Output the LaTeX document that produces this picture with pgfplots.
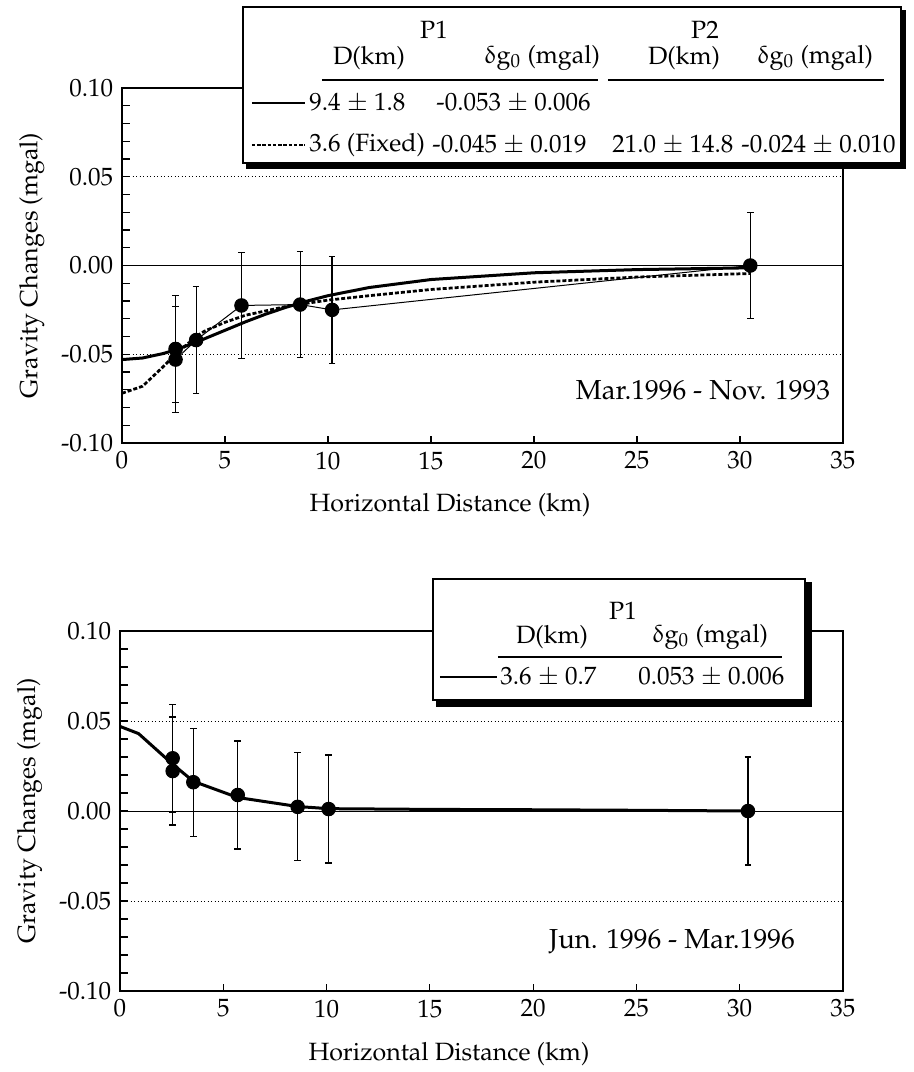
\documentclass[border=0pt]{standalone}
\usepackage[T1]{fontenc}
\usepackage{mathpazo}
\usepackage{upgreek}
\usepackage{pgfplots}
\pgfplotsset{compat=1.18}

\pgfplotsset{gstyle/.style={
  width=288.4pt, height=142pt, scale only axis,
  xmin=0, xmax=35, ymin=-0.1, ymax=0.1,
  xtick={0,5,...,35},
  ytick={-0.1,-0.05,0,0.05,0.1},
  yticklabels={-0.10,-0.05,0.00,0.05,0.10},
  minor y tick num=4,
  tick pos=left, tick align=inside,
  major tick length=3pt, minor tick length=3pt,
  axis line style={line width=0.6pt},
  every tick/.style={black, line width=0.5pt},
  xlabel={Horizontal Distance (km)},
  ylabel={Gravity Changes (mgal)},
  xlabel style={at={(axis description cs:0.455,-0.175)}, anchor=center},
  ylabel style={at={(axis description cs:-0.125,0.5)}, anchor=center},
  clip=false},
  pts/.style={only marks, mark=*, mark size=2.7pt, black,
    error bars/.cd, y dir=both, y explicit,
    error bar style={line width=0.5pt},
    error mark options={rotate=90, mark size=1.3pt, line width=0.5pt}}}

\newcommand{\dg}{$\updelta$g$_0$}

\begin{document}
\begin{tikzpicture}
\useasboundingbox (0,0) rectangle (365.2pt,-428.8pt);

% upper panel: Mar.1996 - Nov.1993
\begin{axis}[gstyle, at={(48.8pt,-177.2pt)}, anchor=south west]
\draw[densely dotted, line width=0.4pt] (axis cs:0,0.05) -- (axis cs:35,0.05);
\draw[densely dotted, line width=0.4pt] (axis cs:0,-0.05) -- (axis cs:35,-0.05);
\draw[line width=0.4pt] (axis cs:0,0) -- (axis cs:35,0);
% thin line through stations
\addplot[black, line width=0.4pt] coordinates {
  (2.6,-0.053) (3.6,-0.042) (5.8,-0.0225) (8.65,-0.022) (10.2,-0.025) (30.5,0)};
% P1 model, D = 9.4 km
\addplot[black, line width=1.2pt] coordinates {
  (0,-0.053) (1,-0.0521) (2,-0.0496) (2.6,-0.0475) (3,-0.0458) (3.6,-0.0432)
  (4,-0.0413) (5,-0.0365) (6,-0.0317) (7,-0.0273) (8,-0.0234) (9,-0.0200)
  (10,-0.0170) (12,-0.0124) (15,-0.0079) (20,-0.0041) (25,-0.0023) (30.5,-0.0013)};
% P1 + P2 model
\addplot[black, line width=1.1pt, dash pattern=on 1.6pt off 0.8pt] coordinates {
  (0,-0.072) (1,-0.068) (2,-0.057) (2.6,-0.050) (3,-0.046) (3.6,-0.040)
  (4,-0.037) (5,-0.032) (6,-0.028) (8,-0.023) (10,-0.0195) (12,-0.017)
  (15,-0.0135) (20,-0.0094) (25,-0.0065) (30.5,-0.0045)};
\addplot[pts] table[x=x, y=y, y error=e] {
x     y        e
2.6   -0.047   0.030
2.6   -0.053   0.030
3.6   -0.042   0.030
5.8   -0.0225  0.030
8.65  -0.022   0.030
10.2  -0.025   0.030
30.5  0.000    0.030
};
\end{axis}

% lower panel: Jun.1996 - Mar.1996
\begin{axis}[gstyle, at={(48pt,-396.4pt)}, anchor=south west, width=289.2pt, height=144pt]
\draw[densely dotted, line width=0.4pt] (axis cs:0,0.05) -- (axis cs:35,0.05);
\draw[densely dotted, line width=0.4pt] (axis cs:0,-0.05) -- (axis cs:35,-0.05);
\draw[line width=0.4pt] (axis cs:0,0) -- (axis cs:35,0);
\addplot[black, line width=1.2pt] coordinates {
  (0,0.047) (0.9,0.043) (2.55,0.026) (3.55,0.0165) (5.7,0.0075) (8.6,0.0025)
  (10.1,0.0013) (15,0.0009) (20,0.0007) (25,0.0004) (30.4,0.0)};
\addplot[pts] table[x=x, y=y, y error=e] {
x     y        e
2.55  0.0293   0.030
2.55  0.0222   0.030
3.55  0.0160   0.030
5.7   0.0089   0.030
8.6   0.0023   0.030
10.1  0.0011   0.030
30.4  0.000    0.030
};
\end{axis}

\begin{scope}[x=0.4pt, y=-0.4pt]
% upper legend box
\fill[black] (246,10) rectangle (906,169);
\draw[fill=white, line width=0.9pt] (243,7) rectangle (901,163);
\node at (434,30) {P1};
\node at (705,30) {P2};
\node at (369,58) {D(km)};
\node at (542,58) {\dg\ (mgal)};
\node at (684,58) {D(km)};
\node at (815,58) {\dg\ (mgal)};
\draw[line width=0.6pt] (322,80) -- (598,80);
\draw[line width=0.6pt] (608,80) -- (884,80);
\draw[line width=0.9pt] (252,103) -- (305,103);
\draw[line width=0.9pt, dash pattern=on 1.4pt off 0.7pt] (252,145) -- (305,145);
\node[anchor=west, inner sep=0pt] at (309,103) {9.4 $\pm$ 1.8};
\node[anchor=west, inner sep=0pt] at (436,103) {-0.053 $\pm$ 0.006};
\node[anchor=west, inner sep=0pt] at (309,145) {3.6 (Fixed)};
\node[anchor=west, inner sep=0pt] at (432,145) {-0.045 $\pm$ 0.019};
\node[anchor=west, inner sep=0pt] at (612,145) {21.0 $\pm$ 14.8};
\node[anchor=west, inner sep=0pt] at (741,145) {-0.024 $\pm$ 0.010};
% lower legend box
\fill[black] (436,582) rectangle (812,707);
\draw[fill=white, line width=0.9pt] (433,579) rectangle (805,700);
\node at (623,611) {P1};
\node at (552,637) {D(km)};
\node at (710,637) {\dg\ (mgal)};
\draw[line width=0.6pt] (498,657) -- (782,657);
\draw[line width=0.9pt] (440,677) -- (497,677);
\node[anchor=west, inner sep=0pt] at (500,677) {3.6 $\pm$ 0.7};
\node[anchor=west, inner sep=0pt] at (638,677) {0.053 $\pm$ 0.006};
% period labels
\node[font=\fontsize{11}{13}\selectfont] at (703,390) {Mar.1996 - Nov. 1993};
\node[font=\fontsize{11}{13}\selectfont] at (672,942) {Jun. 1996 - Mar.1996};
\end{scope}
\end{tikzpicture}
\end{document}
